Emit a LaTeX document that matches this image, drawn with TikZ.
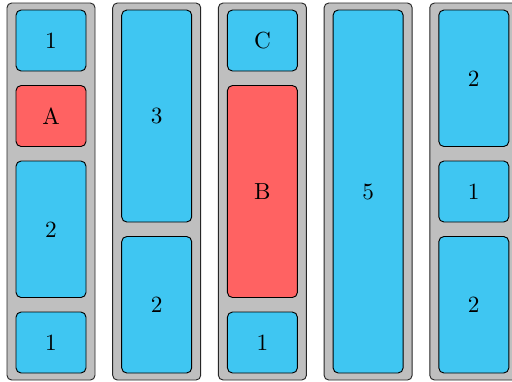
\documentclass[tikz,border=0pt]{standalone}
\usepackage{xcolor}
\usepackage{tikz}
\usetikzlibrary{positioning}
\definecolor{slotblue}{HTML}{3FC6F2}
\definecolor{slotred}{HTML}{FF6262}
\definecolor{railgray}{HTML}{BFBFBF}

\begin{document}
\begin{tikzpicture}[x=0.43pt, y=-0.43pt,
  rail/.style={draw=black!85, fill=railgray, thin, rounded corners=2pt},
  cell/.style={draw, thin, rounded corners=2.2pt, inner sep=0pt,
    minimum width=70*0.43pt, minimum height={(75.5*#1-14.5)*0.43pt}},
  free/.style={cell=#1, fill=slotblue},
  used/.style={cell=#1, fill=slotred}]

\useasboundingbox (0,0) rectangle (512,381);

% Columns
\foreach \c in {0,...,4}
  \draw[rail] (7+105.7*\c, 3) rectangle (95+105.7*\c, 380);

% Column 1
\node[free=1] (a1) at (51, 40.5) {1};
\node[used=1] (a2) at (51, 116) {A};
\node[free=2] (a3) at (51, 229.25) {2};
\node[free=1] (a4) at (51, 342.5) {1};

% Column 2
\node[free=3] (b1) at (156.7, 116) {3};
\node[free=2] (b2) at (156.7, 304.75) {2};

% Column 3
\node[free=1] (c1) at (262.4, 40.5) {C};
\node[used=3] (c2) at (262.4, 191.5) {B};
\node[free=1] (c3) at (262.4, 342.5) {1};

% Column 4
\node[free=5] (d1) at (368.1, 191.5) {5};

% Column 5
\node[free=2] (e1) at (473.8, 78.25) {2};
\node[free=1] (e2) at (473.8, 191.5) {1};
\node[free=2] (e3) at (473.8, 304.75) {2};

\end{tikzpicture}
\end{document}
